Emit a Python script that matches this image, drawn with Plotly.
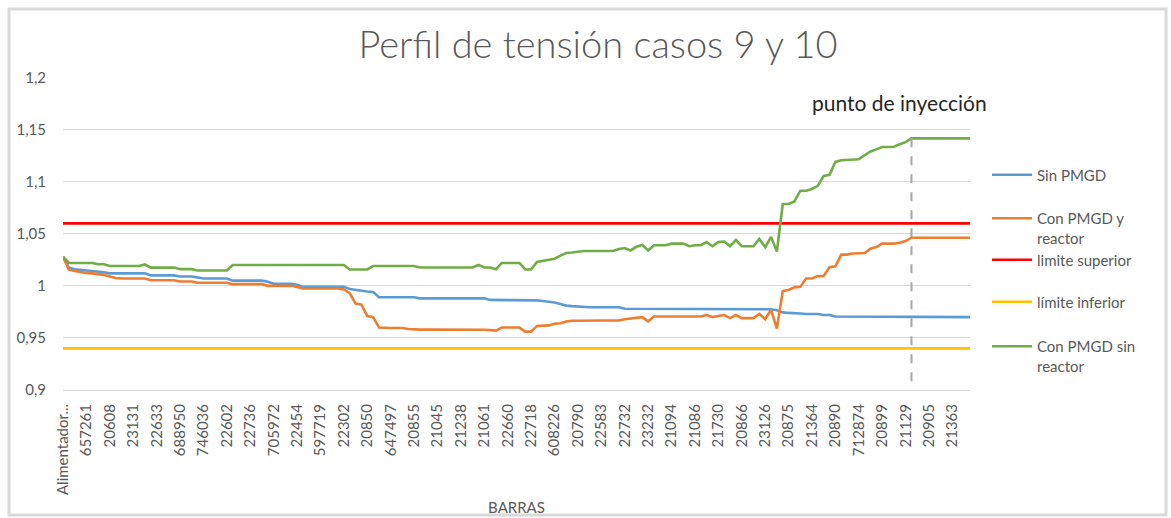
import plotly.graph_objects as go

# ---------------- data ----------------
tick_labels = ["Alimentador...", "657261", "20608", "23131", "22633", "688950", "746036",
               "22602", "22736", "705972", "22454", "597719", "22302", "20850", "647497",
               "20855", "21045", "21238", "21061", "22660", "22718", "608226", "20790",
               "22583", "22732", "23232", "21094", "21086", "21730", "20866", "23126",
               "20875", "21364", "20890", "712874", "20899", "21129", "20905", "21363"]
label_every = 4  # one bus label shown every 4 buses

sin_pmgd = [
    1.028, 1.0175, 1.016, 1.0155, 1.015, 1.0145, 1.014, 1.013, 1.012, 1.012,
    1.012, 1.012, 1.012, 1.012, 1.012, 1.010, 1.010, 1.010, 1.010, 1.010,
    1.009, 1.009, 1.009, 1.008, 1.007, 1.007, 1.007, 1.007, 1.007, 1.005,
    1.005, 1.005, 1.005, 1.005, 1.005, 1.004, 1.002, 1.002, 1.002, 1.002,
    1.001, 0.999, 0.999, 0.999, 0.999, 0.999, 0.999, 0.999, 0.999, 0.997,
    0.996, 0.995, 0.9945, 0.994, 0.989, 0.989, 0.989, 0.989, 0.989, 0.989,
    0.989, 0.988, 0.988, 0.988, 0.988, 0.988, 0.988, 0.988, 0.988, 0.988,
    0.988, 0.988, 0.988, 0.9865, 0.9865, 0.9865, 0.986, 0.986, 0.986, 0.986,
    0.986, 0.986, 0.9855, 0.985, 0.984, 0.9825, 0.981, 0.9805, 0.980, 0.9795,
    0.9795, 0.9795, 0.9795, 0.9795, 0.9795, 0.9795, 0.978, 0.978, 0.978, 0.9775,
    0.9775, 0.9775, 0.9775, 0.9775, 0.9775, 0.9775, 0.9775, 0.9775, 0.9775, 0.9775,
    0.9775, 0.9775, 0.9775, 0.9775, 0.9775, 0.9775, 0.9775, 0.9775, 0.9775, 0.9775,
    0.9775, 0.9775, 0.9765, 0.9745, 0.974, 0.974, 0.9735, 0.973, 0.973, 0.973,
    0.972, 0.972, 0.9705, 0.9705, 0.9705, 0.9705, 0.9705, 0.9705, 0.970, 0.970,
    0.970, 0.970, 0.970, 0.970, 0.970, 0.970, 0.970, 0.970, 0.970, 0.970,
    0.970, 0.970, 0.970, 0.970, 0.970, 0.970,
]

con_pmgd_reactor = [
    1.028, 1.0155, 1.0143, 1.013, 1.0124, 1.012, 1.0115, 1.0105, 1.009, 1.0075,
    1.007, 1.007, 1.007, 1.007, 1.007, 1.0054, 1.0054, 1.0054, 1.0054, 1.0054,
    1.0042, 1.0042, 1.0042, 1.003, 1.003, 1.003, 1.003, 1.003, 1.003, 1.0016,
    1.0016, 1.0016, 1.0016, 1.0016, 1.0016, 1.000, 1.000, 1.000, 1.000, 1.000,
    0.999, 0.9975, 0.9975, 0.9975, 0.9975, 0.9975, 0.9975, 0.9975, 0.9966, 0.993,
    0.983, 0.982, 0.971, 0.970, 0.960, 0.9595, 0.9595, 0.9595, 0.9595, 0.9585,
    0.958, 0.958, 0.958, 0.958, 0.958, 0.958, 0.958, 0.958, 0.958, 0.958,
    0.958, 0.9585, 0.9578, 0.9575, 0.957, 0.960, 0.960, 0.960, 0.960, 0.956,
    0.956, 0.9615, 0.962, 0.962, 0.9635, 0.964, 0.9657, 0.9665, 0.9665, 0.9667,
    0.9667, 0.9667, 0.9667, 0.9667, 0.9667, 0.9667, 0.968, 0.9685, 0.969, 0.970,
    0.966, 0.9705, 0.9705, 0.9705, 0.9705, 0.9705, 0.9705, 0.9705, 0.9705, 0.9705,
    0.972, 0.970, 0.971, 0.972, 0.969, 0.972, 0.969, 0.969, 0.969, 0.973,
    0.968, 0.977, 0.959, 0.995, 0.996, 0.9985, 0.999, 1.007, 1.007, 1.0093,
    1.0095, 1.018, 1.0188, 1.030, 1.030, 1.031, 1.0313, 1.0316, 1.0357, 1.0372,
    1.0405, 1.0405, 1.0405, 1.0414, 1.043, 1.0462, 1.0462, 1.0462, 1.0462, 1.0462,
    1.0462, 1.0462, 1.0462, 1.0462, 1.0462, 1.0462,
]

con_pmgd_sin_reactor = [
    1.028, 1.022, 1.022, 1.022, 1.022, 1.022, 1.0207, 1.0207, 1.019, 1.019,
    1.019, 1.019, 1.019, 1.019, 1.0205, 1.0175, 1.0175, 1.0175, 1.0175, 1.0175,
    1.016, 1.016, 1.016, 1.0147, 1.0147, 1.0147, 1.0147, 1.0147, 1.0147, 1.020,
    1.020, 1.020, 1.020, 1.020, 1.020, 1.020, 1.020, 1.020, 1.020, 1.020,
    1.020, 1.020, 1.020, 1.020, 1.020, 1.020, 1.020, 1.020, 1.020, 1.0157,
    1.0157, 1.0157, 1.0157, 1.019, 1.019, 1.019, 1.019, 1.019, 1.019, 1.019,
    1.019, 1.0176, 1.0176, 1.0176, 1.0176, 1.0176, 1.0176, 1.0176, 1.0176, 1.0176,
    1.0176, 1.020, 1.0176, 1.0176, 1.016, 1.022, 1.022, 1.022, 1.022, 1.0157,
    1.0157, 1.023, 1.024, 1.025, 1.026, 1.029, 1.0315, 1.032, 1.033, 1.0334,
    1.0334, 1.0334, 1.0334, 1.0334, 1.0334, 1.0353, 1.0363, 1.034, 1.0375, 1.0392,
    1.034, 1.039, 1.039, 1.039, 1.0405, 1.0405, 1.0405, 1.038, 1.039, 1.039,
    1.042, 1.038, 1.042, 1.0425, 1.038, 1.044, 1.038, 1.038, 1.038, 1.045,
    1.037, 1.047, 1.033, 1.0786, 1.0786, 1.081, 1.0913, 1.0913, 1.093, 1.096,
    1.1056, 1.1066, 1.119, 1.1206, 1.121, 1.1216, 1.1216, 1.1254, 1.129, 1.131,
    1.1333, 1.1333, 1.1335, 1.1359, 1.138, 1.1416, 1.1416, 1.1416, 1.1416, 1.1416,
    1.1416, 1.1416, 1.1416, 1.1416, 1.1416, 1.1416,
]

limite_superior_valor = 1.06
limite_inferior_valor = 0.94
indice_inyeccion = 145

y_tick_vals = [0.9, 0.95, 1.0, 1.05, 1.1, 1.15, 1.2]
y_tick_text = ["0,9", "0,95", "1", "1,05", "1,1", "1,15", "1,2"]

# ---------------- figure ----------------
n = len(sin_pmgd)
assert n == len(con_pmgd_reactor) == len(con_pmgd_sin_reactor)
x = list(range(n))
limite_superior = [limite_superior_valor for _ in x]
limite_inferior = [limite_inferior_valor for _ in x]

FONT = "Lato"
GRAY = "#595959"
GRID = "#d9d9d9"

W, H = 1171, 518
L, R, T, B = 63, 201, 77, 128
PW, PH = W - L - R, H - T - B


def px_x(p):
    return (p - L) / PW


def px_y(p):
    return (H - B - p) / PH


series = [
    ("Sin PMGD", sin_pmgd, "#5B9BD5", "legend"),
    ("Con PMGD y<br>reactor", con_pmgd_reactor, "#ED7D31", "legend2"),
    ("limite superior", limite_superior, "#FF0000", "legend3"),
    ("límite inferior", limite_inferior, "#FFC000", "legend4"),
    ("Con PMGD sin<br>reactor", con_pmgd_sin_reactor, "#70AD47", "legend5"),
]

fig = go.Figure()
for name, vals, color, leg in series:
    fig.add_trace(go.Scatter(
        x=x, y=vals, mode="lines", name=name,
        line=dict(color=color, width=2.6),
        legend=leg, hoverinfo="skip",
    ))

legend_centers = {"legend": 175, "legend2": 228, "legend3": 260, "legend4": 302, "legend5": 356}
legend_layout = {}
for key, cy in legend_centers.items():
    legend_layout[key] = dict(
        x=px_x(987), y=px_y(cy), xanchor="left", yanchor="middle",
        bgcolor="rgba(0,0,0,0)", borderwidth=0, valign="top",
        itemwidth=40,
        font=dict(family=FONT, size=15, color=GRAY),
    )

fig.update_layout(
    width=W, height=H,
    margin=dict(l=L, r=R, t=T, b=B, pad=0, autoexpand=False),
    paper_bgcolor="white", plot_bgcolor="white",
    separators=", ",
    showlegend=True,
    title=dict(
        text="Perfil de tensión casos 9 y 10",
        x=598 / W, xanchor="center", xref="container",
        y=1 - 45 / H, yanchor="middle", yref="container",
        font=dict(family=FONT, size=38, color=GRAY, weight=300),
    ),
    xaxis=dict(
        range=[0, n - 1],
        tickmode="array",
        tickvals=[i * label_every for i in range(len(tick_labels))],
        ticktext=tick_labels,
        tickangle=-90,
        tickfont=dict(family=FONT, size=15, color=GRAY),
        showgrid=False, zeroline=False,
        showline=True, linecolor=GRID, linewidth=1,
        ticks="", ticklabelstandoff=7, automargin=False,
        title=dict(text="BARRAS", font=dict(family=FONT, size=15, color=GRAY), standoff=8),
    ),
    yaxis=dict(
        range=[0.9, 1.2005],
        tickmode="array", tickvals=y_tick_vals, ticktext=y_tick_text,
        tickfont=dict(family=FONT, size=15, color=GRAY),
        showgrid=True, gridcolor=GRID, gridwidth=1,
        zeroline=False, showline=False, ticks="", ticklabelstandoff=16,
        automargin=False,
    ),
    **legend_layout,
)

# injection point marker
fig.add_shape(type="line", xref="x", yref="y",
              x0=indice_inyeccion, x1=indice_inyeccion,
              y0=con_pmgd_sin_reactor[indice_inyeccion], y1=0.89,
              line=dict(color="#a6a6a6", width=2, dash="dash"))
fig.add_annotation(text="punto de inyección", xref="x", yref="paper",
                   x=indice_inyeccion - 2, y=px_y(103), showarrow=False,
                   xanchor="center", yanchor="middle",
                   font=dict(family=FONT, size=21, color="#262626"))

# outer chart frame
fig.add_shape(type="rect", xref="paper", yref="paper",
              x0=px_x(9), x1=px_x(1166), y0=px_y(515), y1=px_y(9),
              line=dict(color=GRID, width=3), fillcolor="rgba(0,0,0,0)", layer="below")

fig.write_html(
    "out.html",
    config={"displayModeBar": False},
    post_script="document.body.style.margin='0';document.body.style.overflow='hidden';",
)
